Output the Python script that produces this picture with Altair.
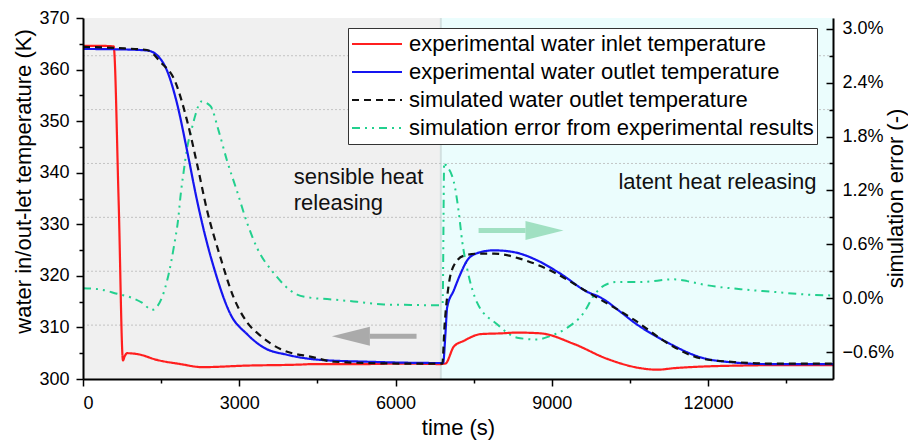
import altair as alt
import pandas as pd

FONT = "Liberation Sans"

# ---- series -------------------------------------------------------------
S_IN = "experimental water inlet temperature"
S_OUT = "experimental water outlet temperature"
S_SIM = "simulated water outlet temperature"
S_ERR = "simulation error from experimental results"
series_names = [S_IN, S_OUT, S_SIM, S_ERR]
series_colors = ["#ff1f1f", "#1515f0", "#111111", "#22d08e"]
series_dashes = [[1, 0], [1, 0], [7, 5], [8, 5, 2, 5, 2, 5]]

# experimental water inlet temperature (K)
t_inlet = [0, 300, 588, 684, 768, 800, 845, 1062, 1421, 1869, 2286, 3150, 4176,
           4424, 5455, 6100, 6863, 6960, 7120, 7311, 7632, 8016, 8337, 8785,
           9425, 10066, 10706, 11026, 11346, 11987, 12600, 13500, 14400]
T_inlet = [364.6, 364.6, 364.5, 334.6, 303.6, 304.4, 305.0, 304.8, 303.7, 302.9,
           302.3, 302.6, 302.8, 302.9, 302.9, 303.0, 302.9, 303.0, 306.3, 307.4,
           308.7, 308.85, 309.0, 308.85, 306.8, 303.9, 302.1, 301.8, 302.1,
           302.45, 302.6, 302.7, 302.7]

# experimental water outlet temperature (K)
t_outlet = [0, 800, 1229, 1421, 1613, 1806, 1998, 2190, 2350, 2510, 2830, 3150,
            3470, 3919, 4560, 5455, 6863, 6914, 6960, 6992, 7120, 7248, 7376,
            7568, 7889, 8273, 8721, 9169, 9681, 9938, 10322, 10577, 11218,
            11858, 12498, 13139, 14400]
T_outlet = [364.0, 363.9, 363.7, 362.8, 359.8, 353.4, 344.3, 334.6, 327.6, 321.7,
            312.6, 308.7, 306.1, 304.7, 303.7, 303.35, 303.1, 303.1, 309.0,
            313.9, 317.2, 320.4, 323.0, 324.4, 324.95, 324.6, 323.0, 320.4,
            316.9, 315.8, 313.0, 311.0, 307.1, 304.2, 303.2, 302.9, 302.9]

# simulated water outlet temperature (K)
t_sim = [0, 800, 1229, 1485, 1773, 1998, 2190, 2382, 2638, 2893, 3150, 3406,
         3790, 4430, 4814, 6095, 6900, 6940, 7024, 7120, 7311, 7568, 7889,
         8401, 9041, 9681, 10577, 11280, 11858, 12498, 13139, 14400]
T_sim = [364.4, 364.1, 363.8, 361.5, 357.6, 350.1, 341.7, 332.7, 323.6, 315.8,
         311.0, 308.4, 305.8, 304.2, 303.35, 303.0, 303.0, 310.0, 318.4, 322.0,
         323.9, 324.3, 324.3, 323.3, 320.7, 316.9, 311.5, 306.6, 304.0, 303.3,
         303.0, 303.0]

# simulation error from experimental results (%)
t_err = [0, 300, 653, 909, 1133, 1325, 1517, 1645, 1741, 1837, 1869, 1933, 1998,
         2094, 2158, 2270, 2446, 2606, 2766, 2958, 3150, 3342, 3662, 4111, 4430,
         4687, 5263, 5775, 6288, 6863, 6905, 6935, 6958, 7118, 7214, 7279, 7375,
         7567, 7951, 8336, 8721, 8977, 9297, 9617, 9809, 10002, 10258, 10706,
         11346, 11602, 11922, 12627, 13267, 13907, 14400]
e_err = [0.11, 0.10, 0.05, 0.01, -0.05, -0.13, 0.01, 0.27, 0.56, 0.93, 1.12, 1.41,
         1.67, 1.90, 2.04, 2.19, 2.14, 1.86, 1.53, 1.19, 0.84, 0.56, 0.28, 0.04,
         0.0, -0.01, -0.04, -0.07, -0.075, -0.08, -0.06, 1.51, 1.49, 1.30, 0.96,
         0.64, 0.33, -0.05, -0.29, -0.44, -0.46, -0.42, -0.33, -0.16, 0.03, 0.14,
         0.18, 0.18, 0.21, 0.19, 0.15, 0.10, 0.07, 0.04, 0.03]

# ---- operating phases ---------------------------------------------------
phase_start = [0, 6870]
phase_end = [6870, 14400]
phase_fill = ["#f0f0f0", "#ebfdfd"]

# ---- axes ---------------------------------------------------------------
time_domain = [0, 14400]
time_ticks = [0, 1500, 3000, 4500, 6000, 7500, 9000, 10500, 12000, 13500]
temp_domain = [300, 370]
temp_ticks = [300, 305, 310, 315, 320, 325, 330, 335, 340, 345, 350, 355, 360, 365, 370]
err_domain = [-0.9, 3.12]
err_ticks = [-0.6, -0.3, 0.0, 0.3, 0.6, 0.9, 1.2, 1.5, 1.8, 2.1, 2.4, 2.7, 3.0]
err_grid = [-0.3, 0.3, 0.9, 1.5, 2.1, 2.7]

# ---- annotations --------------------------------------------------------
note_t = [4046, 14084]
note_T = [339.1, 338.2]
note_text = ["sensible heat\nreleasing", "latent heat releasing"]
note_align = ["left", "right"]

arrow_T = [308.3, 328.8]
arrow_tail = [6404, 7595]
arrow_neck = [5505, 8498]
arrow_head = [5143, 8861]
arrow_color = ["#aaaaaa", "#a0e0c2"]
arrow_shape = ["M-1,0L1,-0.5L1,0.5Z", "M1,0L-1,-0.5L-1,0.5Z"]

# ---- tables ---------------------------------------------------------------
temps = pd.concat([
    pd.DataFrame({"t": t_inlet, "value": T_inlet, "series": S_IN}),
    pd.DataFrame({"t": t_outlet, "value": T_outlet, "series": S_OUT}),
    pd.DataFrame({"t": t_sim, "value": T_sim, "series": S_SIM}),
], ignore_index=True)
errs = pd.DataFrame({"t": t_err, "value": e_err, "series": S_ERR})
phases = pd.DataFrame({"start": phase_start, "end": phase_end, "fill": phase_fill})
grid = pd.DataFrame({"value": err_grid})
boundary = pd.DataFrame({"t": [phase_end[0]]})

# ---- shared encodings -----------------------------------------------------
x_scale = alt.Scale(domain=time_domain, nice=False, zero=False)
x_axis = alt.Axis(
    title="time (s)", values=time_ticks, orient="bottom",
    labelExpr="datum.value % 3000 === 0 ? format(datum.value, 'd') : ''",
    tickSize=alt.ExprRef(expr="datum.value % 3000 === 0 ? 7 : 4"),
    labelPadding=8, titleY=48, titleBaseline="middle", zindex=1,
)
y_temp_axis = alt.Axis(
    title="water in/out-let temperature (K)", orient="left", values=temp_ticks,
    labelExpr="datum.value % 10 === 0 ? datum.label : ''",
    tickSize=alt.ExprRef(expr="datum.value % 10 === 0 ? 7 : 4"),
    labelPadding=7, titleAngle=270, titleX=-60, titleY=163,
    titleAlign="center", titleBaseline="middle", zindex=1,
)
y_err_axis = alt.Axis(
    title="simulation error (-)", orient="right", values=err_ticks,
    labelExpr="abs(round(datum.value * 10)) % 6 === 0 ? format(datum.value, '.1f') + '%' : ''",
    tickSize=alt.ExprRef(expr="abs(round(datum.value * 10)) % 6 === 0 ? -7 : -4"),
    labelPadding=16, titleAngle=270, titleX=62, titleY=180,
    titleAlign="center", titleBaseline="middle", zindex=1,
)
y_temp_scale = alt.Scale(domain=temp_domain, nice=False, zero=False)
y_err_scale = alt.Scale(domain=err_domain, nice=False, zero=False)

legend = alt.Legend(
    title=None, orient="none", legendX=265, legendY=10,
    symbolType="stroke", symbolSize=2500, symbolStrokeWidth=2,
    clipHeight=26, rowPadding=2, labelFontSize=22, labelFont=FONT,
    labelColor="black", labelOffset=6, labelLimit=600, padding=3,
    strokeColor="#333333", fillColor="white", cornerRadius=0,
)
color_enc = alt.Color("series:N", scale=alt.Scale(domain=series_names, range=series_colors), legend=legend)
dash_enc = alt.StrokeDash("series:N", scale=alt.Scale(domain=series_names, range=series_dashes), legend=legend)

X = alt.X("t:Q", scale=x_scale, axis=x_axis)
Y_TEMP = alt.Y("value:Q", scale=y_temp_scale, axis=y_temp_axis)
Y_ERR = alt.Y("value:Q", scale=y_err_scale, axis=y_err_axis)

# ---- error-scale group: background, grid, error curve --------------------
bg = alt.Chart(phases).mark_rect().encode(
    x=alt.X("start:Q", scale=x_scale, axis=x_axis), x2="end:Q",
    fill=alt.Fill("fill:N", scale=None),
)
edge = alt.Chart(boundary).mark_rule(color="#d3e0e0", strokeWidth=2).encode(x=X)
gridlines = alt.Chart(grid).mark_rule(color="#b8b8b8", strokeWidth=0.8, strokeDash=[2, 2]).encode(y=Y_ERR)
err_line = alt.Chart(errs).mark_line(strokeWidth=2, interpolate="monotone").encode(
    x=X, y=Y_ERR, color=color_enc, strokeDash=dash_enc, order="t:Q"
)
err_group = alt.layer(bg, edge, gridlines, err_line)

# ---- temperature-scale group: curves, arrows, notes -----------------------
temp_lines = alt.Chart(temps).mark_line(strokeWidth=2.2, interpolate="monotone").encode(
    x=X, y=Y_TEMP, color=color_enc, strokeDash=dash_enc, order="t:Q"
)
arrows = pd.DataFrame({"tail": arrow_tail, "neck": arrow_neck, "head": arrow_head,
                       "T": arrow_T, "c": arrow_color})
arrow_layers = []
for i in range(len(arrow_T)):
    a = arrows.iloc[[i]]
    arrow_layers.append(
        alt.Chart(a).mark_rule(strokeWidth=5, color=arrow_color[i], strokeCap="butt").encode(
            x=alt.X("tail:Q", scale=x_scale, axis=x_axis), x2="neck:Q",
            y=alt.Y("T:Q", scale=y_temp_scale, axis=y_temp_axis),
        )
    )
    arrow_layers.append(
        alt.Chart(a).mark_point(shape=arrow_shape[i], filled=True, size=1444,
                                color=arrow_color[i], opacity=1, strokeWidth=0).encode(
            x=alt.X("head:Q", scale=x_scale, axis=x_axis),
            y=alt.Y("T:Q", scale=y_temp_scale, axis=y_temp_axis),
        )
    )

notes = pd.DataFrame({"t": note_t, "T": note_T, "label": note_text})
note_layers = []
for i in range(len(note_t)):
    note_layers.append(
        alt.Chart(notes.iloc[[i]]).mark_text(
            align=note_align[i], baseline="middle", fontSize=22, font=FONT,
            color="#111111", lineBreak="\n", lineHeight=26,
        ).encode(
            x=alt.X("t:Q", scale=x_scale, axis=x_axis),
            y=alt.Y("T:Q", scale=y_temp_scale, axis=y_temp_axis),
            text="label:N",
        )
    )

temp_group = alt.layer(temp_lines, *arrow_layers, *note_layers)

chart = (
    alt.layer(err_group, temp_group)
    .resolve_scale(y="independent")
    .properties(
        width=750, height=361,
        autosize=alt.AutoSizeParams(type="none"),
        padding={"left": 83, "top": 18, "right": 75, "bottom": 61},
        background="white",
    )
    .configure_view(stroke="#dddddd", strokeWidth=1)
    .configure_axis(
        labelFont=FONT, labelFontSize=18, labelColor="black",
        titleFont=FONT, titleFontSize=22, titleFontWeight="normal", titleColor="black",
        domainColor="black", domainWidth=2, tickColor="black", tickWidth=1.5,
        grid=False, labelOverlap=False,
    )
)

chart.save("out.html", embed_options={"renderer": "svg", "actions": False})
